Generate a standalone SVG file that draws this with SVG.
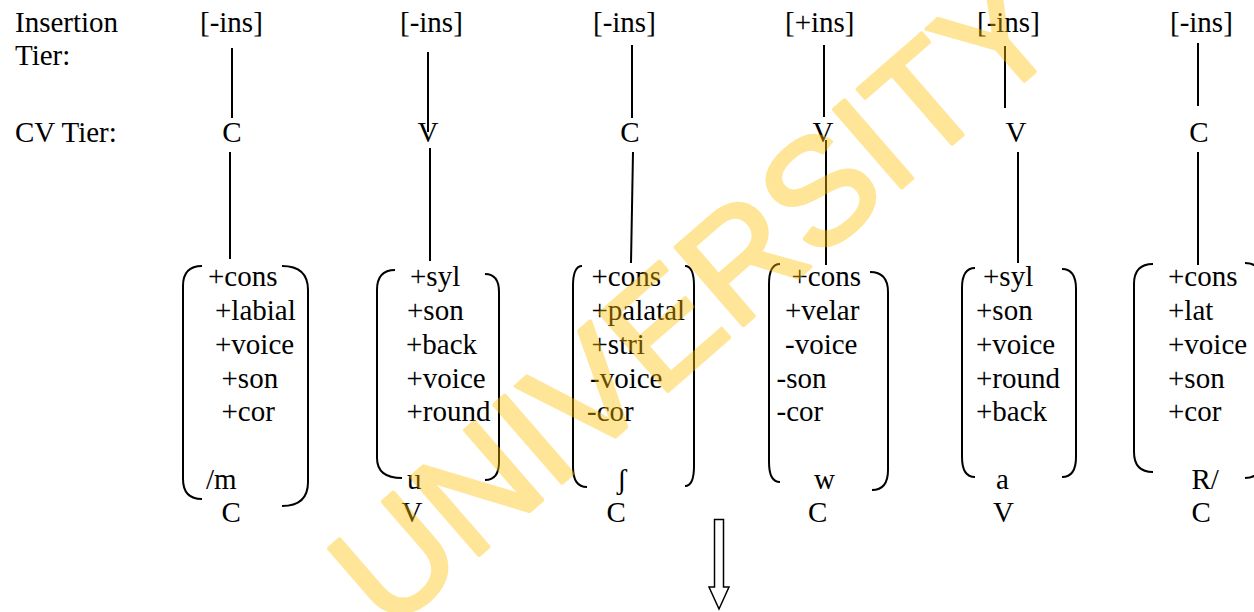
<svg xmlns="http://www.w3.org/2000/svg" width="1254" height="612" viewBox="0 0 1254 612">
<style>
text{font-family:"Liberation Serif","Times New Roman",serif;font-size:29px;fill:#000}
.c{text-anchor:middle}
.br{fill:none;stroke:#000;stroke-width:2}
.ln{stroke:#000;stroke-width:2;fill:none}
.wm{font-family:"Liberation Sans",Arial,sans-serif;font-size:150px;fill:#FFC000;stroke:#FFC000;stroke-width:4;stroke-linejoin:round}
</style>
<rect width="1254" height="612" fill="#fff"/>
<g id="labels">
<text x="15" y="32">Insertion</text>
<text x="15" y="65">Tier:</text>
<text x="15" y="142">CV Tier:</text>
</g>
<g id="connectors">
<line class="ln" x1="232" y1="48" x2="232" y2="118"/>
<line class="ln" x1="230" y1="152" x2="230" y2="259"/>
<line class="ln" x1="428" y1="52" x2="428" y2="132"/>
<line class="ln" x1="430" y1="148" x2="430" y2="261"/>
<line class="ln" x1="632" y1="45" x2="632" y2="118"/>
<line class="ln" x1="633" y1="152" x2="631" y2="263"/>
<line class="ln" x1="824" y1="45" x2="824" y2="117"/>
<line class="ln" x1="826" y1="140" x2="826" y2="265"/>
<line class="ln" x1="1005" y1="46" x2="1005" y2="108"/>
<line class="ln" x1="1018" y1="152" x2="1018" y2="263"/>
<line class="ln" x1="1198" y1="43" x2="1198" y2="106"/>
<line class="ln" x1="1198" y1="152" x2="1198" y2="265"/>
</g>
<g id="col1">
<text x="200" y="32">[-ins]</text>
<text class="c" x="232" y="142">C</text>
<path class="br" d="M202,266 Q183,266 183,286 L183,479 Q183,499 202,499"/>
<path class="br" d="M282,266 Q308,266 308,290 L308,482 Q308,506 282,506"/>
<text x="208" y="286">+cons</text>
<text x="215" y="320">+labial</text>
<text x="215" y="354">+voice</text>
<text x="221.5" y="387.5">+son</text>
<text x="221.5" y="421">+cor</text>
<text x="206" y="489">/m</text>
<text x="221.5" y="522">C</text>
</g>
<g id="col2">
<text x="400" y="32">[-ins]</text>
<text class="c" x="428" y="142">V</text>
<path class="br" d="M395,270 Q377,270 377,290 L377,458 Q377,478 402,478"/>
<path class="br" d="M485,274 Q499,274 499,292 L499,462 Q499,480 485,480"/>
<text x="410" y="286">+syl</text>
<text x="407" y="320">+son</text>
<text x="406" y="354">+back</text>
<text x="406.5" y="387.5">+voice</text>
<text x="406.5" y="421">+round</text>
<text x="407" y="489">u</text>
<text x="401.5" y="522">V</text>
</g>
<g id="col3">
<text x="593" y="32">[-ins]</text>
<text class="c" x="630" y="142">C</text>
<path class="br" d="M582,266 Q573,266 573,286 L573,467 Q573,487 587,487"/>
<path class="br" d="M685,266 Q694,266 694,286 L694,466 Q694,486 685,486"/>
<text x="591.5" y="286">+cons</text>
<text x="591.5" y="320">+palatal</text>
<text x="591.5" y="354">+stri</text>
<text x="590" y="387.5">-voice</text>
<text x="587" y="421">-cor</text>
<text x="617" y="489">ʃ</text>
<text x="606.5" y="522">C</text>
</g>
<g id="col4">
<text x="785" y="32">[+ins]</text>
<text class="c" x="823" y="142">V</text>
<path class="br" d="M780,264 Q769,264 769,284 L769,462 Q769,482 780,482"/>
<path class="br" d="M870,272 Q888,272 888,292 L888,470 Q888,490 872,490"/>
<text x="791.5" y="286">+cons</text>
<text x="785" y="320">+velar</text>
<text x="785" y="354">-voice</text>
<text x="776.5" y="387.5">-son</text>
<text x="776.5" y="421">-cor</text>
<text x="814" y="489">w</text>
<text x="808" y="522">C</text>
</g>
<g id="col5">
<text x="977" y="32">[-ins]</text>
<text class="c" x="1016" y="142">V</text>
<path class="br" d="M975,268 Q962,268 962,288 L962,457 Q962,477 975,477"/>
<path class="br" d="M1062,269 Q1076,269 1076,289 L1076,457 Q1076,477 1062,477"/>
<text x="983" y="286">+syl</text>
<text x="976" y="320">+son</text>
<text x="976" y="354">+voice</text>
<text x="976" y="387.5">+round</text>
<text x="976" y="421">+back</text>
<text x="996" y="489">a</text>
<text x="993" y="522">V</text>
</g>
<g id="col6">
<text x="1170" y="32">[-ins]</text>
<text class="c" x="1199" y="142">C</text>
<path class="br" d="M1153,264 Q1134,264 1134,284 L1134,452 Q1134,472 1153,472"/>
<path class="br" d="M1245,263 Q1262,263 1262,283 L1262,458 Q1262,478 1245,478"/>
<text x="1168" y="286">+cons</text>
<text x="1168" y="320">+lat</text>
<text x="1168" y="354">+voice</text>
<text x="1168" y="387.5">+son</text>
<text x="1168" y="421">+cor</text>
<text x="1191.5" y="489">R/</text>
<text x="1191.5" y="522">C</text>
</g>
<g id="arrow">
<path d="M714.5,519.5 L723.5,519.5 L723.5,587 L729,587 L719,609 L709,587 L714.5,587 Z" fill="#fff" stroke="#000" stroke-width="1.5"/>
</g>
<g id="watermark" opacity="0.4">
<text class="wm" x="388" y="634" transform="rotate(-41 388 634)">UNIVERSITY</text>
</g>
</svg>
